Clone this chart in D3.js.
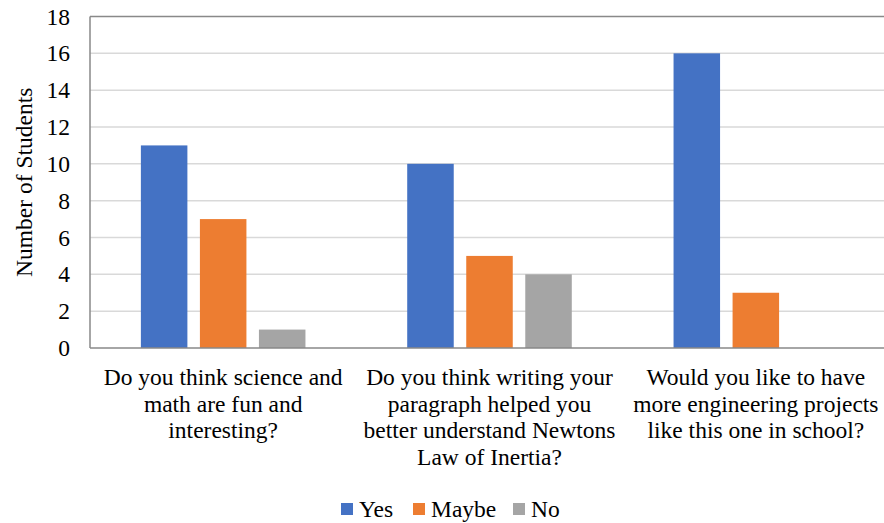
<!DOCTYPE html>
<html>
<head>
<meta charset="utf-8">
<script src="https://cdn.jsdelivr.net/npm/d3@7"></script>
<style>
  html, body { margin: 0; padding: 0; background: #fff; }
  svg { display: block; }
  #chart text, #chart tspan { font-family: "Liberation Serif" !important; }
</style>
</head>
<body>
<svg id="chart" width="884" height="523" font-family="Liberation Serif"></svg>
<script>
// Survey questions (x categories), split into wrapped lines
const questions = [
  ["Do you think science and", "math are fun and", "interesting?"],
  ["Do you think writing your", "paragraph helped you", "better understand Newtons", "Law of Inertia?"],
  ["Would you like to have", "more engineering projects", "like this one in school?"]
];
const seriesNames = ["Yes", "Maybe", "No"];
const yesCounts = [11, 10, 16];
const maybeCounts = [7, 5, 3];
const noCounts = [1, 4, 0];
const yTicks = [0, 2, 4, 6, 8, 10, 12, 14, 16, 18];
const colors = ["#4472C4", "#ED7D31", "#A5A5A5"];

const seriesValues = [yesCounts, maybeCounts, noCounts];
const categoryIds = questions.map((q, i) => i);

const FONT = "Liberation Serif";
const FS = "23.5px";

// serif text helper: family and size set inline with priority
function serif(sel) {
  return sel.style("font-family", FONT, "important").style("font-size", FS).attr("fill", "#000");
}

const svg = d3.select("#chart");
const margin = { left: 90, top: 16.5, right: -5, bottom: 175 };
const width = 884, height = 523;
const plotRight = width - margin.right;
const plotBottom = height - margin.bottom;

const x0 = d3.scaleBand().domain(categoryIds).range([margin.left, plotRight]).padding(0);
const x1 = d3.scaleBand().domain(seriesNames).range([0, x0.bandwidth()])
  .paddingInner(0.212).paddingOuter(0.862);
const y = d3.scaleLinear().domain([0, 18]).range([plotBottom, margin.top]);

// Horizontal gridlines
svg.append("g")
  .selectAll("line")
  .data(yTicks.filter(t => t > 0 && t < 18))
  .join("line")
  .attr("x1", margin.left).attr("x2", plotRight)
  .attr("y1", d => y(d)).attr("y2", d => y(d))
  .attr("stroke", "#d9d9d9").attr("stroke-width", 1.5);

// Bars
const groups = svg.append("g")
  .selectAll("g")
  .data(categoryIds)
  .join("g")
  .attr("transform", d => `translate(${x0(d)},0)`);

groups.selectAll("rect")
  .data(ci => seriesNames.map((s, si) => ({ s, si, v: seriesValues[si][ci] })))
  .join("rect")
  .attr("x", d => x1(d.s))
  .attr("width", x1.bandwidth())
  .attr("y", d => y(d.v))
  .attr("height", d => y(0) - y(d.v))
  .attr("fill", d => colors[d.si]);

// Plot frame: top border, left axis, bottom axis
const frame = svg.append("g").attr("stroke", "#898989").attr("stroke-width", 1.5).attr("fill", "none");
frame.append("line").attr("x1", margin.left).attr("x2", plotRight).attr("y1", y(18)).attr("y2", y(18));
frame.append("line").attr("x1", margin.left).attr("x2", margin.left).attr("y1", y(18)).attr("y2", y(0));
frame.append("line").attr("x1", margin.left).attr("x2", plotRight).attr("y1", y(0)).attr("y2", y(0));

// Y axis tick labels
const yAxis = d3.axisLeft(y).tickValues(yTicks).tickSize(0).tickPadding(20);
const yg = svg.append("g").attr("transform", `translate(${margin.left},0)`).call(yAxis);
yg.select(".domain").remove();
yg.attr("font-family", FONT).attr("font-size", 23.5);
serif(yg.selectAll("text"));

// Y axis title
serif(svg.append("text")
  .attr("transform", `translate(32,${(y(0) + y(18)) / 2}) rotate(-90)`)
  .attr("text-anchor", "middle"))
  .text("Number of Students");

// Category labels
const labels = svg.append("g");
questions.forEach((lines, i) => {
  const cx = x0(i) + x0.bandwidth() / 2;
  const t = serif(labels.append("text")
    .attr("x", cx)
    .attr("y", 385)
    .attr("text-anchor", "middle"));
  lines.forEach((ln, j) => {
    t.append("tspan").attr("x", cx).attr("y", 385 + j * 26.7).text(ln);
  });
});

// Legend
const legendX = [341, 413, 513];
const legend = svg.append("g");
seriesNames.forEach((s, i) => {
  legend.append("rect").attr("x", legendX[i]).attr("y", 503).attr("width", 12).attr("height", 12).attr("fill", colors[i]);
  serif(legend.append("text").attr("x", legendX[i] + 18).attr("y", 517)).text(s);
});
</script>
</body>
</html>
